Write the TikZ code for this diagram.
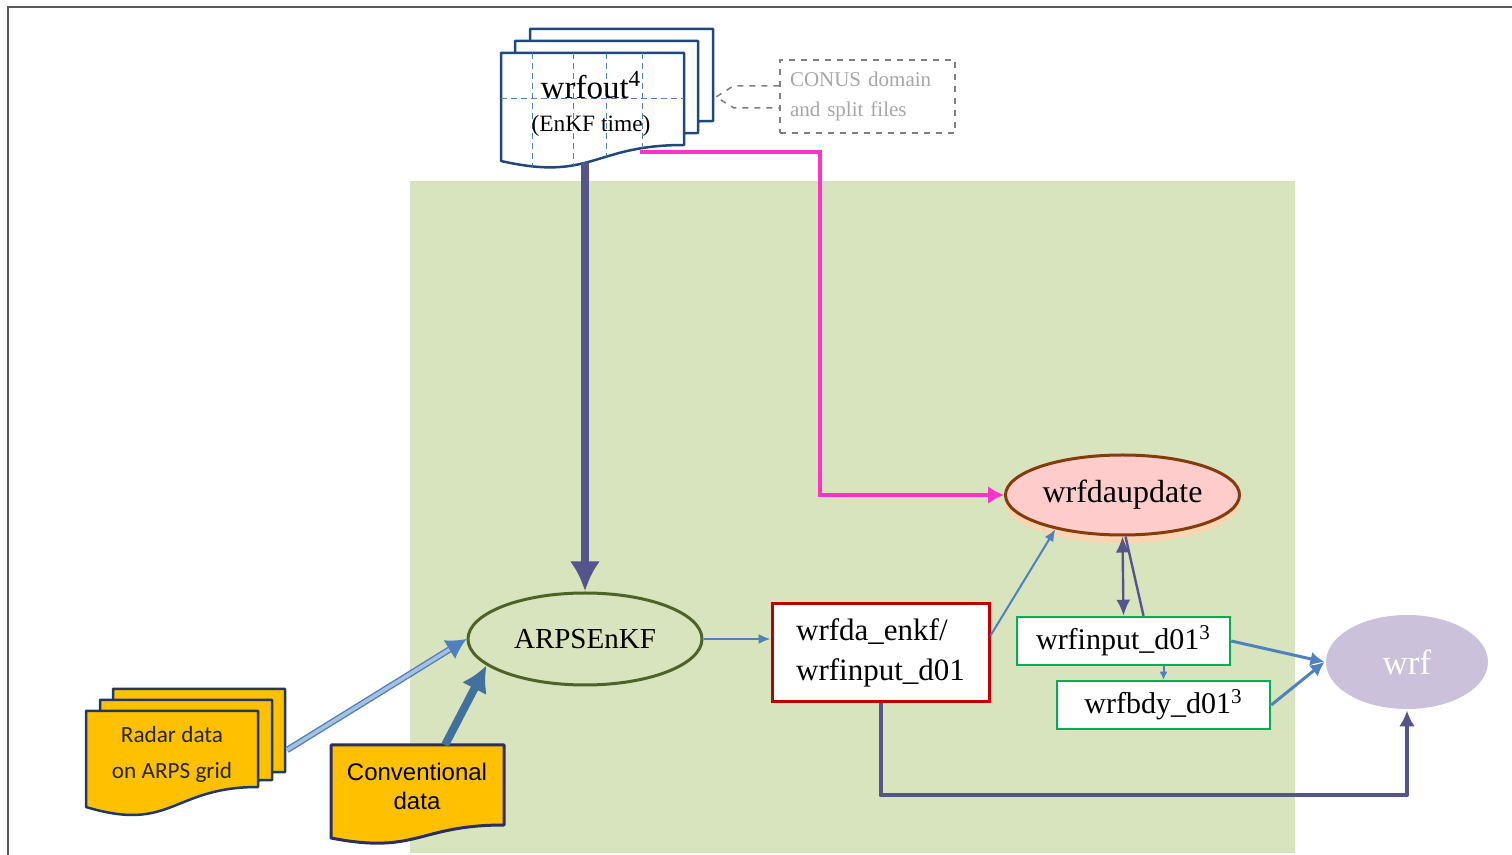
\documentclass[tikz,border=0pt]{standalone}
\usepackage{fontspec}
\setmainfont{Liberation Serif}
\newfontfamily\calibrifont{Carlito}
\newfontfamily\arialfont{Liberation Sans}
\usetikzlibrary{arrows.meta,shapes.geometric,shadows,positioning}

\definecolor{bggreen}{HTML}{D7E4BD}
\definecolor{framegray}{HTML}{595959}
\definecolor{pagenavy}{HTML}{1F497D}
\definecolor{gridblue}{HTML}{4F81BD}
\definecolor{linkblue}{HTML}{4F81BD}
\definecolor{hotpink}{HTML}{FF33CC}
\definecolor{slateblue}{HTML}{55558C}
\definecolor{olivegreen}{HTML}{4F6228}
\definecolor{boxred}{HTML}{C00000}
\definecolor{rust}{HTML}{843C0C}
\definecolor{rosefill}{HTML}{FFCCCC}
\definecolor{peach}{HTML}{FBD4B4}
\definecolor{boxgreen}{HTML}{00B050}
\definecolor{lilac}{HTML}{CCC1DA}
\definecolor{amber}{HTML}{FFC000}
\definecolor{radarnavy}{HTML}{1F3864}
\definecolor{convnavy}{HTML}{2E2E5E}
\definecolor{steel}{HTML}{41719C}
\definecolor{dashgray}{HTML}{7F7F7F}
\definecolor{notegray}{HTML}{A6A6A6}

% document page outline: x, y, width, right drop, left drop
\newcommand{\docpath}[5]{(#1,#2) -- ({#1+#3},#2) -- ({#1+#3},{#2+#4}) .. controls ({#1+0.5*#3},{#2+#4}) and ({#1+0.5*#3},{#2+#5+1.3*(#5-#4)}) .. (#1,{#2+#5}) -- cycle}

\begin{document}
\begin{tikzpicture}[x=0.5pt,y=-0.5pt]
\tikzstyle{wrfpage}=[draw=pagenavy, line width=1.25pt, fill=white, line join=round]
\tikzstyle{gridline}=[draw=gridblue, line width=0.5pt, dash pattern=on 3pt off 2pt]
\tikzstyle{obspage}=[draw=radarnavy, line width=1.25pt, fill=amber, line join=round]
\tikzstyle{proc}=[ellipse, inner sep=0pt, line width=1.5pt, font=\fontsize{16}{19}\selectfont]
\tikzstyle{filebox}=[rectangle, fill=white, line width=1.25pt, font=\fontsize{15}{18}\selectfont]
\tikzstyle{thinlink}=[draw=linkblue, line width=1pt, >={Latex[length=6pt,width=5pt]}]
\tikzstyle{midlink}=[draw=linkblue, line width=1.5pt, >={Latex[length=7pt,width=7pt]}]
\tikzstyle{fatlink}=[draw=slateblue, line width=4pt, >={Latex[length=15pt,width=15pt]}]
\tikzstyle{pinklink}=[draw=hotpink, line width=2pt, >={Latex[length=8pt,width=9pt]}]
\tikzstyle{duallink}=[draw=slateblue, line width=1.2pt, >={Latex[length=8pt,width=7pt]}]
\tikzstyle{routelink}=[draw=slateblue, line width=2pt, line join=round, >={Latex[length=8pt,width=8pt]}]
\tikzstyle{radarlink}=[draw=linkblue, line width=0.7pt, double=linkblue!50!white, double distance=1.8pt, >={Latex[length=10pt,width=11pt]}]
\tikzstyle{convlink}=[draw=steel, line width=4pt, >={Latex[length=13pt,width=14pt]}]
\tikzstyle{dashlink}=[draw=dashgray, line width=0.75pt, dashed]

\useasboundingbox (0,0) rectangle (1512,855);
\draw[framegray, line width=1pt] (8,855) -- (8,7) -- (1512,7);
\fill[bggreen] (410,181) rectangle (1295,853);

% wrfout stack
\foreach \px/\py in {530/29, 515/41, 501/53}
  \filldraw[wrfpage] \docpath{\px}{\py}{183}{92}{108};
\begin{scope}
\clip \docpath{501}{53}{183}{92}{108};
\foreach \gx in {532,573,606,642}
  \draw[gridline] (\gx,53) -- (\gx,175);
\draw[gridline] (501,99) -- (684,99);
\end{scope}
\node[font=\fontsize{16.5}{19}\selectfont] (wrfout) at (591,85) {wrfout\textsuperscript{4}};
\node[font=\fontsize{11.7}{14}\selectfont] (enkftime) at (591,126) {(EnKF time)};

\node[draw=dashgray, dashed, line width=0.75pt, text=notegray, align=left, text width=77.5pt, inner xsep=5pt, minimum height=36.5pt, font=\fontsize{10.5}{15}\selectfont] (conus) at (867.5,96.5) {CONUS domain\\and split files};
\coordinate (conusarr) at (716,97);
\draw[dashlink] ([yshift=5.25pt]conus.west) -- ++(-46,0) -- (conusarr) -- ++(18,11) -- ([yshift=-5.75pt]conus.west);

% processes and files
\node[proc, draw=olivegreen, minimum width=117pt, minimum height=46pt, font=\fontsize{14.5}{17}\selectfont] (arpsenkf) at (585,639) {ARPSEnKF};
\node[filebox, draw=boxred, line width=1.5pt, minimum width=108.5pt, minimum height=49pt, align=left, font=\fontsize{15.5}{20}\selectfont] (wrfdaenkf) at (880.5,653) {wrfda\_enkf/\\wrfinput\_d01};
\node[proc, draw=rust, fill=rosefill, minimum width=117pt, minimum height=40pt, drop shadow={shadow xshift=0pt, shadow yshift=-4pt, fill=peach, opacity=1}] (wrfdaupdate) at (1122.5,495) {wrfdaupdate};
\node[filebox, draw=boxgreen, minimum width=106.5pt, minimum height=24pt] (wrfinput) at (1123.5,641) {wrfinput\_d01\textsuperscript{3}};
\node[filebox, draw=boxgreen, minimum width=106.5pt, minimum height=24pt] (wrfbdy) at (1163.5,705) {wrfbdy\_d01\textsuperscript{3}};
\node[proc, fill=lilac, text=white, minimum width=81pt, minimum height=47pt, font=\fontsize{17.5}{20}\selectfont] (wrf) at (1407,662) {wrf};

% observations
\foreach \px/\py/\pr in {113/689/83, 100/700/80, 86/711/76}
  \filldraw[obspage] \docpath{\px}{\py}{172}{\pr}{96};
\node[font=\calibrifont\fontsize{11.6}{18}\selectfont, align=center, text=black!85] (radar) at (172,754) {Radar data\\on ARPS grid};
\filldraw[obspage, draw=convnavy, line width=1.5pt] \docpath{331}{745}{173}{80}{93};
\node[font=\arialfont\fontsize{12}{14.5}\selectfont, align=center] (conv) at (417,786) {Conventional\\data};

\coordinate (wrfoutbot) at (585,162);
\coordinate (pinkstart) at (640,152);
\coordinate (radarout) at (287,750);
\coordinate (convtop) at (445,745);

\draw[fatlink, ->] (wrfoutbot) -- (arpsenkf.north);
\draw[pinklink, ->] (pinkstart) -- ++(180,0) |- (wrfdaupdate.west);
\draw[thinlink, ->] (arpsenkf.east) -- (arpsenkf.east -| wrfdaenkf.west);
\draw[thinlink, ->] (wrfdaenkf.9) -- (wrfdaupdate.207);
\draw[duallink, <->] (wrfdaupdate.south) -- (wrfinput.north);
\draw[duallink] ([xshift=10pt]wrfinput.north) -- ([xshift=1.5pt]wrfdaupdate.south);
\draw[thinlink, ->, >={Latex[length=4pt,width=4pt]}] (wrfinput.south -| wrfbdy.north) -- (wrfbdy.north);
\draw[midlink, ->] (wrfinput.east) -- (wrf.west);
\draw[midlink, ->] (wrfbdy.east) -- (wrf.west);
\draw[routelink, ->] (wrfdaenkf.south) -- ++(0,92) -| (wrf.south);
\draw[radarlink, ->] (radarout) -- (arpsenkf.west);
\draw[convlink, ->] (convtop) -- (arpsenkf.195);

\end{tikzpicture}
\end{document}
